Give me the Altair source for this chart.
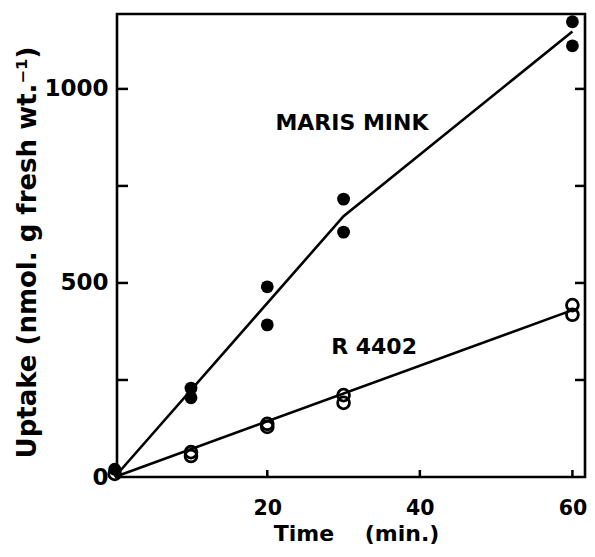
import altair as alt
import pandas as pd

mm_time = [0, 10, 10, 20, 20, 30, 30, 60, 60]
mm_uptake = [20, 229, 204, 490, 392, 716, 631, 1173, 1111]
r_time = [0, 10, 10, 20, 20, 30, 30, 60, 60]
r_uptake = [8, 64, 54, 137, 129, 211, 191, 443, 418]

# Fitted lines
mm_fit_time = [0, 30, 60]
mm_fit_uptake = [0, 672, 1148]
r_fit_time = [0, 60]
r_fit_uptake = [0, 430]

# Axis ticks / labels
x_ticks = [20, 40, 60]
y_ticks = [250, 500, 750, 1000]
y_labels = [0, 500, 1000]

# Series labels
label_text = ["MARIS MINK", "R 4402"]
label_time = [31.1, 34.0]
label_uptake = [913, 335]

FONT = "DejaVu Sans"
W, H = 468, 463

mm_pts = pd.DataFrame({"t": mm_time, "v": mm_uptake})
r_pts = pd.DataFrame({"t": r_time, "v": r_uptake})
fit = pd.concat([
    pd.DataFrame({"t": mm_fit_time, "v": mm_fit_uptake, "s": "MARIS MINK"}),
    pd.DataFrame({"t": r_fit_time, "v": r_fit_uptake, "s": "R 4402"}),
])
lab = pd.DataFrame({"t": label_time, "v": label_uptake, "txt": label_text})
xt = pd.DataFrame({"t": x_ticks})
yt = pd.DataFrame({"v": y_ticks})

xscale = alt.Scale(domain=[0.3, 61.65], nice=False, zero=False)
yscale = alt.Scale(domain=[0, 1193], nice=False, zero=False)

xaxis = alt.Axis(values=x_ticks, ticks=False, tickSize=0, domain=False, grid=False,
                 labelPadding=21, labelFontSize=20.5, labelFont=FONT, labelFontWeight="bold",
                 labelColor="black", labelFlush=False, labelOverlap=False, format="d",
                 title="Time\u00a0\u00a0\u00a0\u00a0(min.)", titleFont=FONT, titleFontSize=22,
                 titleFontWeight="bold", titleColor="black", titleX=239, titleY=63,
                 titleBaseline="alphabetic", titleAlign="center")
yaxis = alt.Axis(values=y_labels, ticks=False, tickSize=0, domain=False, grid=False,
                 labelPadding=9, labelFontSize=23, labelFont=FONT, labelFontWeight="bold",
                 labelColor="black", labelFlush=False, labelOverlap=False, format="d",
                 title="Uptake (nmol. g fresh wt.\u207b\u00b9)", titleFont=FONT, titleFontSize=26,
                 titleFontWeight="bold", titleColor="black", titleAngle=270,
                 titleX=-82, titleY=238, titleBaseline="alphabetic", titleAlign="center")

X = alt.X("t:Q", scale=xscale, axis=xaxis)
Y = alt.Y("v:Q", scale=yscale, axis=yaxis)

lines = alt.Chart(fit).mark_line(color="black", strokeWidth=2.6).encode(
    x=X, y=Y, detail="s:N")
filled = alt.Chart(mm_pts).mark_circle(color="black", size=165, opacity=1).encode(x=X, y=Y)
openp = alt.Chart(r_pts).mark_point(shape="circle", filled=False, stroke="black",
                                    strokeWidth=2.8, size=140, opacity=1).encode(x=X, y=Y)
texts = alt.Chart(lab).mark_text(font=FONT, fontSize=22, fontWeight="bold", color="black",
                                 align="center", baseline="middle").encode(x=X, y=Y, text="txt:N")

left_ticks = alt.Chart(yt).mark_rule(color="black", strokeWidth=2.5).encode(
    y=Y, x=alt.value(0), x2=alt.value(11))
right_ticks = alt.Chart(yt).mark_rule(color="black", strokeWidth=2.5).encode(
    y=Y, x=alt.value(W), x2=alt.value(W - 10))
bottom_ticks = alt.Chart(xt).mark_rule(color="black", strokeWidth=2.5).encode(
    x=X, y=alt.value(H), y2=alt.value(H - 7))

chart = alt.layer(lines, left_ticks, right_ticks, bottom_ticks, filled, openp, texts).properties(
    width=W, height=H,
    background="white",
    autosize=alt.AutoSizeParams(type="none"),
    padding={"left": 109, "top": 6, "right": 2, "bottom": 72},
).configure_view(stroke="black", strokeWidth=2.6)

chart.save("out.html", embed_options={"renderer": "svg", "actions": False})
